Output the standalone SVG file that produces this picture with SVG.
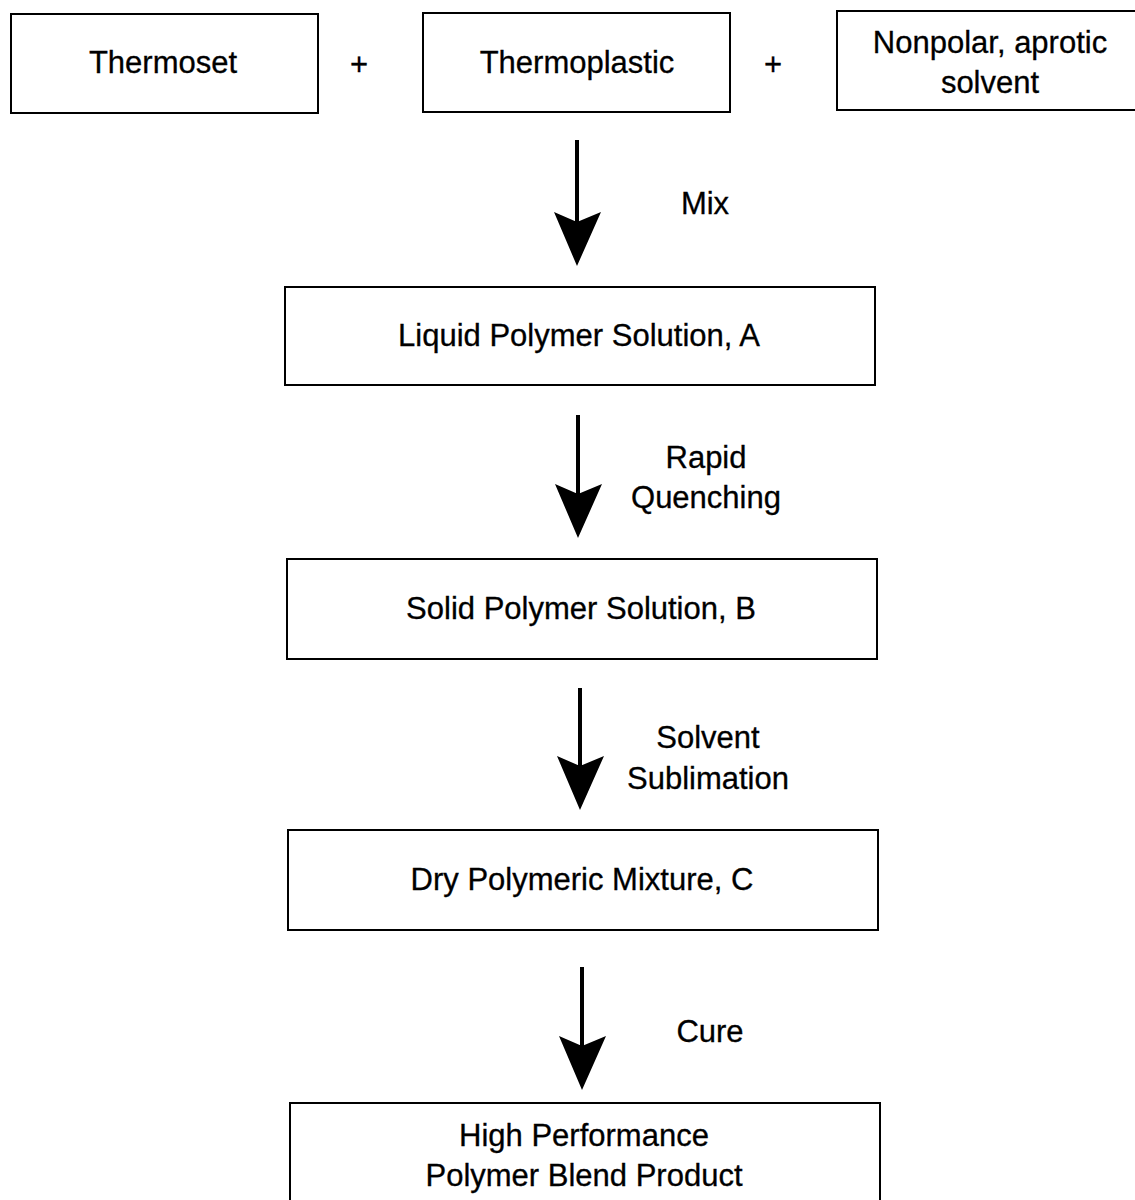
<svg xmlns="http://www.w3.org/2000/svg" width="1135" height="1200" viewBox="0 0 1135 1200">
<style>
  .box{fill:#fff;stroke:#000;stroke-width:2}
  .t{font-family:"Liberation Sans",Arial,Helvetica,sans-serif;font-size:31px;fill:#000;stroke:#000;stroke-width:0.3;text-anchor:middle}
  .shaft{stroke:#000;stroke-width:4;fill:none}
</style>
<defs>
  <marker id="ah" markerUnits="userSpaceOnUse" viewBox="-54 -25 56 50" markerWidth="56" markerHeight="50" refX="-14" refY="0" orient="auto">
    <path d="M0,0 L-54,-24 L-44,0 L-54,23 Z" fill="#000"/>
  </marker>
</defs>
<rect width="1135" height="1200" fill="#fff"/>

<g id="thermoset">
  <rect class="box" x="11" y="14" width="307" height="99"/>
  <text class="t" x="163" y="73">Thermoset</text>
</g>
<text class="t" x="359" y="75">+</text>
<g id="thermoplastic">
  <rect class="box" x="423" y="13" width="307" height="99"/>
  <text class="t" x="577" y="73">Thermoplastic</text>
</g>
<text class="t" x="773" y="75">+</text>
<g id="solvent">
  <rect class="box" x="837" y="11" width="310" height="99"/>
  <text class="t" x="990" y="53">Nonpolar, aprotic</text>
  <text class="t" x="990" y="93">solvent</text>
</g>

<g id="liquid">
  <rect class="box" x="285" y="287" width="590" height="98"/>
  <text class="t" x="579" y="346">Liquid Polymer Solution, A</text>
</g>
<g id="solid">
  <rect class="box" x="287" y="559" width="590" height="100"/>
  <text class="t" x="581" y="619">Solid Polymer Solution, B</text>
</g>
<g id="dry">
  <rect class="box" x="288" y="830" width="590" height="100"/>
  <text class="t" x="582" y="890">Dry Polymeric Mixture, C</text>
</g>
<g id="product">
  <rect class="box" x="290" y="1103" width="590" height="110"/>
  <text class="t" x="584" y="1146">High Performance</text>
  <text class="t" x="584" y="1186">Polymer Blend Product</text>
</g>

<g id="connectors">
  <line class="shaft" x1="577" y1="140" x2="577" y2="252" marker-end="url(#ah)"/>
  <line class="shaft" x1="578" y1="415" x2="578" y2="524" marker-end="url(#ah)"/>
  <line class="shaft" x1="580" y1="688" x2="580" y2="796" marker-end="url(#ah)"/>
  <line class="shaft" x1="582" y1="967" x2="582" y2="1076" marker-end="url(#ah)"/>
  <text class="t" x="705" y="214">Mix</text>
  <text class="t" x="706" y="468">Rapid</text>
  <text class="t" x="706" y="508">Quenching</text>
  <text class="t" x="708" y="748">Solvent</text>
  <text class="t" x="708" y="789">Sublimation</text>
  <text class="t" x="710" y="1042">Cure</text>
</g>
</svg>
